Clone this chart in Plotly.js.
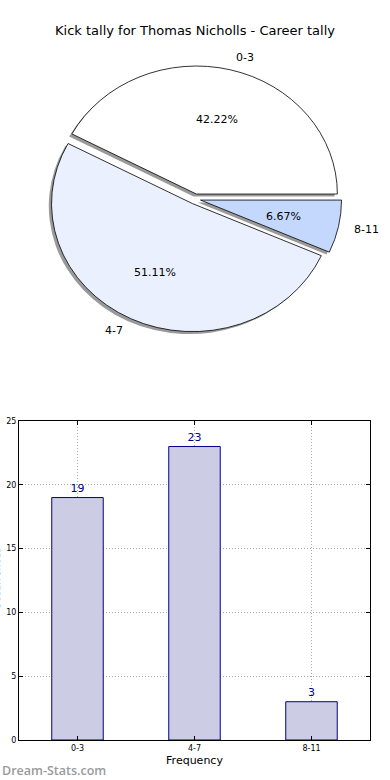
<!DOCTYPE html>
<html>
<head>
<meta charset="utf-8">
<script src="https://cdn.plot.ly/plotly-3.0.1.min.js"></script>
<style>html,body{margin:0;padding:0;background:#fff;}#chart{width:390px;height:780px;}</style>
</head>
<body>
<div id="chart"></div>
<script>
// ---- data ----
var categories = ["0-3", "4-7", "8-11"];
var counts = [19, 23, 3];
var sliceColors = ["#ffffff", "#eaf0fe", "#c4d8fe"];
var yTicks = [0, 5, 10, 15, 20, 25];
var chartTitle = "Kick tally for Thomas Nicholls - Career tally";
var xTitle = "Frequency";
var yTitle = "Occurrences";
var watermark = "Dream-Stats.com";

// ---- layout constants (pixels) ----
var W = 390, H = 780;
function px(x){ return x / W; }
function py(y){ return 1 - y / H; }
var font = "DejaVu Sans, sans-serif";

var CX = 195, CY = 199;      // pie centre
var R = 134;                 // Plotly (circular) radius
var SX = 141 / R, SY = 128 / R; // stretch to the reference's elliptical pie
var PULL = 0.04;
var half = R * (1 + PULL);

// slices run counter-clockwise from 3 o'clock (as in the reference); Plotly
// lays them clockwise, so feed the slices in reverse order.
var rLabels = categories.slice().reverse();
var rCounts = counts.slice().reverse();
var rColors = sliceColors.slice().reverse();
var pullArr = rLabels.map(function(){ return PULL; });
var pieDomain = {x: [px(CX - half), px(CX + half)], y: [py(CY + half), py(CY - half)]};
var shadowDomain = {x: [px(CX - half - 2.6), px(CX + half - 2.6)], y: [py(CY + half + 2.6), py(CY - half + 2.6)]};

var common = {type: "pie", labels: rLabels, values: rCounts, sort: false,
  direction: "clockwise", rotation: 90, pull: pullArr, hoverinfo: "none",
  showlegend: false, textinfo: "none"};
function mk(extra){ var o = {}; for (var k in common) o[k] = common[k]; for (var k2 in extra) o[k2] = extra[k2]; return o; }

var shadow = mk({
  domain: shadowDomain,
  marker: {colors: rLabels.map(function(){ return "#9a9a9a"; }), line: {width: 0}}
});
var pie = mk({
  domain: pieDomain,
  marker: {colors: rColors, line: {color: "#000000", width: 0.8}}
});

var bars = {
  type: "bar", x: categories, y: counts, width: 0.44,
  marker: {color: "#cccce5", line: {color: "#00008b", width: 1}},
  texttemplate: "%{y}", textposition: "outside", cliponaxis: false,
  textfont: {family: font, size: 11, color: "#00008b"},
  hoverinfo: "none", showlegend: false, xaxis: "x", yaxis: "y"
};

// pie text (percentages at 0.6 R, labels at 1.1 R), placed from the data
var total = counts.reduce(function(a, b){ return a + b; }, 0);
var pieAnn = [];
var start = 0;
counts.forEach(function(v, i){
  var frac = v / total;
  var mid = (start + frac / 2) * 2 * Math.PI;
  start += frac;
  var c = Math.cos(mid), s = Math.sin(mid);
  var ox = CX + PULL * R * SX * c, oy = CY - PULL * R * SY * s;
  var rx = R * SX, ry = R * SY;
  pieAnn.push({text: (frac * 100).toFixed(2) + "%", xref: "paper", yref: "paper",
    x: px(ox + 0.6 * rx * c), y: py(oy - 0.6 * ry * s), xanchor: "center", yanchor: "middle",
    showarrow: false, font: {family: font, size: 11, color: "#000000"}});
  pieAnn.push({text: categories[i], xref: "paper", yref: "paper",
    x: px(ox + 1.1 * rx * c), y: py(oy - 1.1 * ry * s), xanchor: c > 0 ? "left" : "right", yanchor: "middle",
    showarrow: false, font: {family: font, size: 11, color: "#000000"}});
});

var layout = {
  width: W, height: H,
  margin: {l: 0, r: 0, t: 0, b: 0},
  paper_bgcolor: "#ffffff", plot_bgcolor: "#ffffff",
  font: {family: font, size: 9, color: "#000000"},
  title: {text: chartTitle, x: 0.5, xanchor: "center", y: py(30), yanchor: "middle",
          font: {family: font, size: 13, color: "#000000"}},
  xaxis: {
    domain: [px(19), px(370)], range: [-0.5, 2.5], type: "category",
    showline: true, linecolor: "#000000", linewidth: 1, mirror: "ticks",
    ticks: "inside", ticklen: 4, tickcolor: "#000000",
    showgrid: true, gridcolor: "#aaaaaa", griddash: "1px,2px", gridwidth: 1,
    tickfont: {family: font, size: 8, color: "#000000"},
    title: {text: xTitle, font: {family: font, size: 11, color: "#000000"}, standoff: 4},
    automargin: false, zeroline: false, fixedrange: true
  },
  yaxis: {
    domain: [py(740), py(421)], range: [0, 25], tickvals: yTicks,
    showline: true, linecolor: "#000000", linewidth: 1, mirror: "ticks",
    ticks: "inside", ticklen: 4, tickcolor: "#000000",
    showgrid: true, gridcolor: "#aaaaaa", griddash: "1px,2px", gridwidth: 1,
    tickfont: {family: font, size: 8, color: "#000000"},
    automargin: false, zeroline: false, fixedrange: true
  },
  annotations: pieAnn.concat([
    {text: watermark, xref: "paper", yref: "paper", x: 0, y: py(770), xanchor: "left", yanchor: "middle",
     showarrow: false, font: {family: "Open Sans, sans-serif", size: 12.5, color: "#9a9a9a", weight: 600}},
    {text: yTitle, xref: "paper", yref: "paper", x: px(-4), y: py(579), xanchor: "center", yanchor: "middle",
     textangle: -90, showarrow: false, font: {family: font, size: 10, color: "#000000"}}
  ])
};

Plotly.newPlot("chart", [shadow, pie, bars], layout, {staticPlot: true, displayModeBar: false})
  .then(function(gd){
    // stretch the pie layer into the reference's ellipse around its centre
    var layer = gd.querySelector(".pielayer");
    if (layer) {
      layer.setAttribute("transform",
        "translate(" + CX + "," + CY + ") scale(" + SX + "," + SY + ") translate(" + (-CX) + "," + (-CY) + ")");
    }
  });
</script>
</body>
</html>
